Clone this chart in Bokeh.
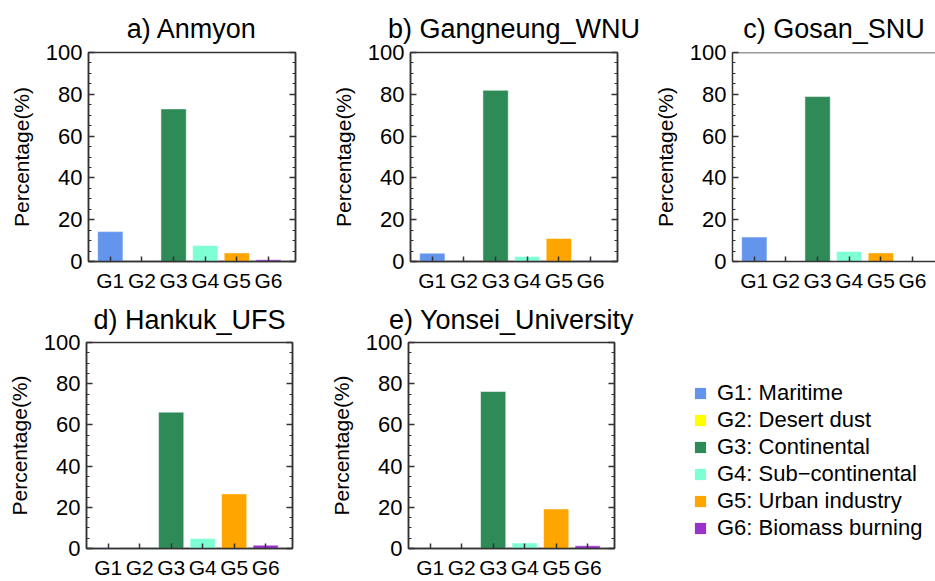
import numpy as np
from bokeh.plotting import figure
from bokeh.models import (Range1d, LinearAxis, FixedTicker, SingleIntervalTicker, Span,
                          Legend, LegendItem, ColumnDataSource, CustomJSTickFormatter)
from bokeh.layouts import row, column
from bokeh.embed import file_html
from bokeh.resources import INLINE

# ---------------- data ----------------
categories = ["G1", "G2", "G3", "G4", "G5", "G6"]
group_names = ["Maritime", "Desert dust", "Continental", "Sub\u2212continental",
               "Urban industry", "Biomass burning"]
colors = ["#6495ED", "#FFFF00", "#2E8B57", "#7FFFD4", "#FFA500", "#9932CC"]
site_titles = ["a) Anmyon", "b) Gangneung_WNU", "c) Gosan_SNU",
               "d) Hankuk_UFS", "e) Yonsei_University"]
anmyon = [14.3, 0.0, 73.0, 7.6, 4.1, 0.8]
gangneung_wnu = [4.0, 0.0, 81.9, 2.4, 11.0, 0.3]
gosan_snu = [11.7, 0.0, 78.9, 4.8, 4.1, 0.0]
hankuk_ufs = [0.4, 0.0, 66.2, 4.8, 26.5, 1.6]
yonsei_university = [0.0, 0.0, 76.2, 2.7, 19.2, 1.3]
y_label = "Percentage(%)"

FONT = "Liberation Sans"
AX = "#333333"
TXT = "#000000"
X_START = 0.311
X_END = 6.853


def panel(title, vals, width, height, bl, br, bt, bb, x_end=X_END, closed=True,
          title_standoff=18):
    xs = list(range(1, len(categories) + 1))
    src = ColumnDataSource(dict(x=xs, top=vals, color=colors, cat=categories))
    p = figure(width=width, height=height, output_backend="svg", toolbar_location=None,
               x_range=Range1d(X_START, x_end), y_range=Range1d(0, 100),
               min_border_left=bl, min_border_right=br, min_border_top=bt,
               min_border_bottom=bb, title=title)
    p.vbar(x="x", top="top", bottom=0, width=0.8, fill_color="color",
           line_color="white", line_alpha=0.5, line_width=1, source=src)
    p.grid.visible = False
    p.background_fill_color = "white"
    p.border_fill_color = "white"

    p.title.text_font = FONT
    p.title.text_font_size = "27px"
    p.title.text_font_style = "normal"
    p.title.align = "center"
    p.title.text_color = TXT
    p.title.standoff = title_standoff

    xa = p.xaxis[0]
    xa.ticker = FixedTicker(ticks=xs)
    xa.major_label_overrides = {x: c for x, c in zip(xs, categories)}
    xa.major_tick_in = 5
    xa.major_tick_out = 0
    xa.minor_tick_line_color = None
    xa.major_label_standoff = 7
    xa.major_label_text_font = FONT
    xa.major_label_text_font_size = "21px"
    xa.major_label_text_color = TXT
    xa.axis_line_color = AX
    xa.axis_line_width = 1.5
    xa.major_tick_line_color = AX
    xa.major_tick_line_width = 1.5

    ya = p.yaxis[0]
    ya.ticker = SingleIntervalTicker(interval=20, num_minor_ticks=4)
    ya.major_tick_in = 6
    ya.major_tick_out = 0
    ya.minor_tick_in = 3
    ya.minor_tick_out = 0
    ya.major_label_standoff = 6
    ya.major_label_text_font = FONT
    ya.major_label_text_font_size = "22px"
    ya.major_label_text_color = TXT
    ya.axis_label = y_label
    ya.axis_label_text_font = FONT
    ya.axis_label_text_font_size = "21px"
    ya.axis_label_text_font_style = "normal"
    ya.axis_label_text_color = TXT
    ya.axis_label_standoff = 10
    ya.axis_line_color = AX
    ya.axis_line_width = 1.5
    ya.major_tick_line_color = AX
    ya.major_tick_line_width = 1.5
    ya.minor_tick_line_color = AX
    ya.minor_tick_line_width = 1.2

    if closed:
        ra = LinearAxis(ticker=SingleIntervalTicker(interval=20, num_minor_ticks=4),
                        formatter=CustomJSTickFormatter(code="return ''"),
                        major_label_standoff=0, major_label_text_font_size="1px",
                        major_tick_in=6, major_tick_out=0, minor_tick_in=3, minor_tick_out=0,
                        axis_line_color=AX, axis_line_width=1.5,
                        major_tick_line_color=AX, major_tick_line_width=1.5,
                        minor_tick_line_color=AX, minor_tick_line_width=1.2)
        p.add_layout(ra, "right")
        p.outline_line_color = AX
        p.outline_line_width = 1.5
        p.outline_line_alpha = 1.0
    else:
        p.outline_line_color = None
        p.add_layout(Span(location=100, dimension="width", line_color=AX, line_width=1.5))
    return p


TOP_H = 294
BOT_H = 581 - TOP_H
BOT_TOP = 342 - TOP_H

fa = panel(site_titles[0], anmyon, 322, TOP_H, 88, 27, 52, TOP_H - 261)
fb = panel(site_titles[1], gangneung_wnu, 322, TOP_H, 88, 27, 52, TOP_H - 261)
fc_width = 935 - 644
fc_frame = fc_width - 88
fc = panel(site_titles[2], gosan_snu, fc_width, TOP_H, 88, 0, 52, TOP_H - 261,
           x_end=X_START + fc_frame / (207.0 / (X_END - X_START)), closed=False)

fd = panel(site_titles[3], hankuk_ufs, 322, BOT_H, 86, 30, BOT_TOP, 29, title_standoff=15)
fe = panel(site_titles[4], yonsei_university, 322, BOT_H, 86, 30, BOT_TOP, 29,
           title_standoff=15)

# legend panel: one bar renderer (kept outside the visible range), one legend row per index
lg = figure(width=fc_width, height=BOT_H, output_backend="svg", toolbar_location=None,
            x_range=Range1d(-20, -19), y_range=Range1d(-20, -19), min_border=0)
lg.axis.visible = False
lg.grid.visible = False
lg.outline_line_color = None
lsrc = ColumnDataSource(dict(x=list(range(1, len(categories) + 1)),
                             top=yonsei_university, color=colors))
lr = lg.vbar(x="x", top="top", width=0.8, fill_color="color", line_color=None, source=lsrc)
items = [LegendItem(label=f"{cat}: {name}", renderers=[lr], index=i)
         for i, (cat, name) in enumerate(zip(categories, group_names))]
legend = Legend(items=items, location=(49, 7), orientation="vertical",
                label_text_font=FONT, label_text_font_size="22px",
                label_text_color=TXT,
                glyph_width=14, glyph_height=14, label_standoff=10, spacing=1,
                padding=0, margin=0, border_line_color=None, background_fill_alpha=0)
lg.add_layout(legend)

layout = column(row(fa, fb, fc), row(fd, fe, lg))

with open("out.html", "w") as f:
    f.write(file_html(layout, INLINE))
